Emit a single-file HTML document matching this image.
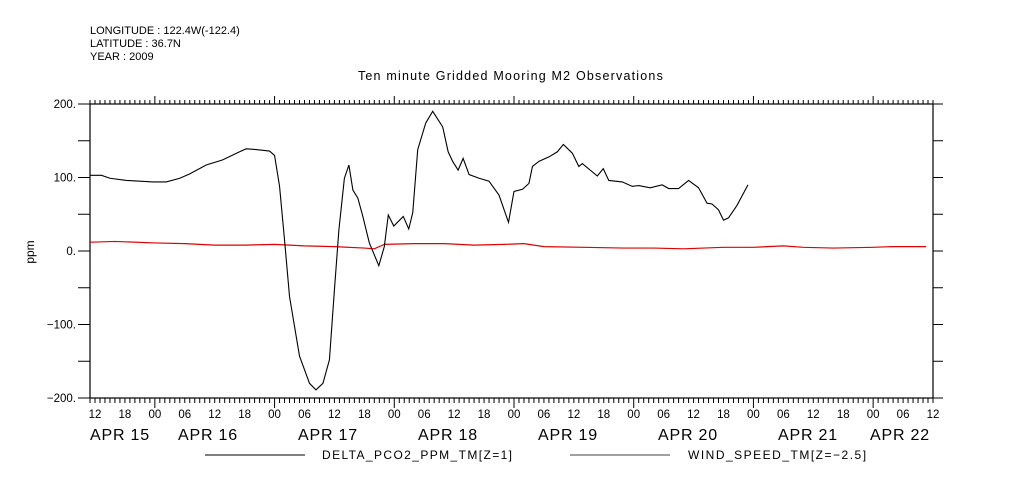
<!DOCTYPE html>
<html><head><meta charset="utf-8"><style>
body{margin:0;background:#fff}
svg{display:block;font-family:"Liberation Sans",sans-serif}
</style></head><body>
<svg id="chart" width="1009" height="504" viewBox="0 0 1009 504">
<rect width="1009" height="504" fill="#fff"/>
<g font-size="11" fill="#000">
<text x="90" y="34">LONGITUDE : 122.4W(-122.4)</text>
<text x="90" y="47">LATITUDE : 36.7N</text>
<text x="90" y="60">YEAR : 2009</text>
</g>
<text x="511" y="80" font-size="12.5" letter-spacing="1.2" text-anchor="middle">Ten minute Gridded Mooring M2 Observations</text>
<text transform="translate(34,252) rotate(-90)" font-size="12" text-anchor="middle">ppm</text>
<g id="axes"></g>
<g id="series"></g>
<g>
<line x1="205" y1="455" x2="305" y2="455" stroke="#000"/>
<text x="322" y="459" font-size="12" letter-spacing="1.4">DELTA_PCO2_PPM_TM[Z=1]</text>
<line x1="570" y1="455" x2="670" y2="455" stroke="#000" stroke-width="0.8"/>
<text x="688" y="459" font-size="12" letter-spacing="1.5">WIND_SPEED_TM[Z=−2.5]</text>
</g>
</svg>
<script>
// hours since APR 15 00:00
const pco2Hours=[11,13.3,15,18.3,23.6,26.3,29,31,34.3,37.6,41,42.3,44.3,47,48,49,50,51,53,55,56.3,57.7,59,60,60.9,62,62.9,63.7,64.7,65.7,67,68.9,70,70.8,71.9,73.8,74.9,75.7,76.7,78.3,79.7,81.7,82.8,83.7,84.8,85.8,87,89,91,93,94.9,96,97.7,99,99.7,101,103,104.7,105.9,107.7,109,109.7,112.7,113.9,115,117.7,119.7,121,123.3,125.7,127,129,131,133,134.7,135.7,137,138,139,140.7,142.9];
const pco2Values=[103,103,99,96,94,94,99,105,117,124,135,139,138,136,130,88,15,-62,-143,-180,-189,-180,-148,-53,29,99,117,83,72,47,11,-20,6,49,34,47,30,52,138,174,190,169,135,122,110,126,104,99,95,76,39,81,84,92,115,122,128,135,145,133,115,119,102,112,96,94,88,89,86,90,85,85,96,86,65,64,56,42,45,62,90];
const windHours=[11,16,24,30,36,42,48,54,60,66,68,70,76,82,88,94,98,102,110,118,124,130,138,144,150,154,160,168,172,178.6];
const windValues=[12,13,11,10,8,8,9,7,6,4,3,9,10,10,8,9,10,6,5,4,4,3,5,5,7,5,4,5,6,6];
const yTicks=[-200,-150,-100,-50,0,50,100,150,200];
const yTickLabels=["-200.","","-100.","","0.","","100.","","200."];
const dayLabels=["APR 15","APR 16","APR 17","APR 18","APR 19","APR 20","APR 21","APR 22"];

const L=90,R=933,T=104,B=398,t0=11,t1=180;
const X=h=>L+(h-t0)*(R-L)/(t1-t0);
const Y=v=>B-(v+200)*(B-T)/400;
const NS="http://www.w3.org/2000/svg";
function mk(tag,attrs,parent){const e=document.createElementNS(NS,tag);for(const k in attrs)e.setAttribute(k,attrs[k]);parent.appendChild(e);return e;}
const ax=document.getElementById('axes');
let fr=mk('rect',{x:L,y:T,width:R-L,height:B-T,fill:'none',stroke:'#000','stroke-width':1.2},ax);


yTicks.forEach((v,i)=>{
  const y=Y(v);
  let t=mk('line',{x1:L-12,x2:L,y1:y,y2:y,stroke:'#000'},ax);
  
  
  let t2=mk('line',{x1:R,x2:R+10,y1:y,y2:y,stroke:'#000'},ax);
  
  
  if(yTickLabels[i]){
    let tx=mk('text',{x:76,y:y+4,'font-size':11.5,'text-anchor':'end'},ax);
    tx.textContent=yTickLabels[i].replace('-','\u2212');
    
    
  }
});
for(let h=Math.ceil(t0);h<=t1;h++){
  const x=X(h);const major=h%24===0;
  let a=mk('line',{x1:x,x2:x,y1:T-(major?8:4),y2:T,stroke:'#000'},ax);
  
  
  let b=mk('line',{x1:x,x2:x,y1:B,y2:B+(major?10:5),stroke:'#000'},ax);
  
  
  if(h%6===0){
    let tx=mk('text',{x:x,y:418,'font-size':11.5,'text-anchor':'middle'},ax);
    tx.textContent=String(h%24).padStart(2,'0');
    
    
  }
}
dayLabels.forEach((d,i)=>{
  let x=Math.min(Math.max(L,58+120*i),870);
  let tx=mk('text',{x:x,y:440,'font-size':16,'letter-spacing':0.8},ax);
  tx.textContent=d;
  
  
});
const sg=document.getElementById('series');
let wp=mk('polyline',{points:windHours.map((h,i)=>X(h)+','+Y(windValues[i])).join(' '),fill:'none',stroke:'#e00000','stroke-width':1.2},sg);


let pp=mk('polyline',{points:pco2Hours.map((h,i)=>X(h)+','+Y(pco2Values[i])).join(' '),fill:'none',stroke:'#000','stroke-width':1.1},sg);


</script>
</body></html>
